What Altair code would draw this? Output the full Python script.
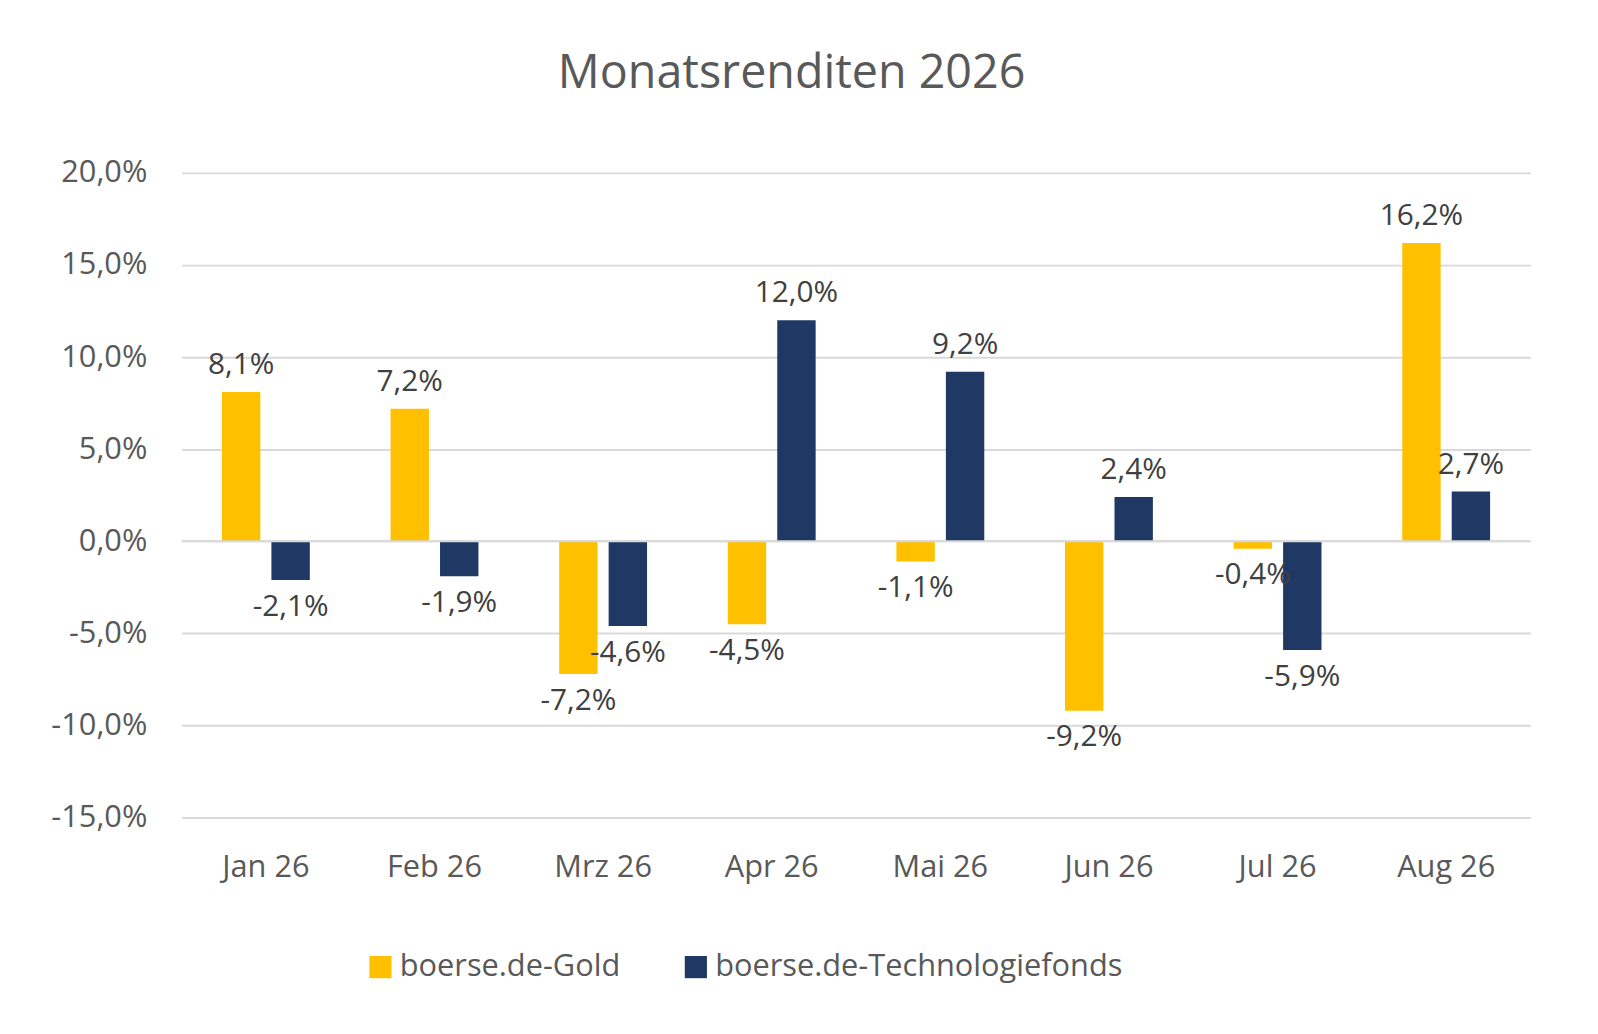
import pandas as pd
import altair as alt

months = ["Jan 26", "Feb 26", "Mrz 26", "Apr 26", "Mai 26", "Jun 26", "Jul 26", "Aug 26"]
gold = [8.1, 7.2, -7.2, -4.5, -1.1, -9.2, -0.4, 16.2]
tech = [-2.1, -1.9, -4.6, 12.0, 9.2, 2.4, -5.9, 2.7]
series = ["boerse.de-Gold", "boerse.de-Technologiefonds"]

df = pd.DataFrame({
    "Monat": months * 2,
    "Fonds": [series[0]] * len(months) + [series[1]] * len(months),
    "Rendite": gold + tech,
})

font = "Open Sans"
grey = "#595959"

base = alt.Chart(df).encode(
    x=alt.X("Monat:N", sort=months, title=None,
            scale=alt.Scale(paddingInner=0, paddingOuter=0),
            axis=alt.Axis(labelAngle=0, domain=False, ticks=False, labelFontSize=31,
                          labelColor=grey, labelFont=font, labelPadding=35)),
    xOffset=alt.XOffset("Fonds:N", sort=series,
                        scale=alt.Scale(paddingInner=0.224, paddingOuter=0.816)),
)

bars = base.mark_bar().encode(
    y=alt.Y("Rendite:Q", title=None,
            scale=alt.Scale(domain=[-15, 20], nice=False),
            axis=alt.Axis(values=[-15, -10, -5, 0, 5, 10, 15, 20], domain=False, ticks=False,
                          labelExpr="replace(replace(format(datum.value, '.1f'), '.', ','), '\u2212', '-') + '%'",
                          labelFontSize=31, labelColor=grey, labelFont=font, labelPadding=35,
                          gridColor="#D9D9D9", gridWidth=2)),
    color=alt.Color("Fonds:N", sort=series,
                    scale=alt.Scale(domain=series, range=["#FFC000", "#1F3864"]),
                    legend=alt.Legend(title=None, orient="none", direction="horizontal",
                                      legendX=185, legendY=785, symbolType="square",
                                      symbolSize=500, symbolStrokeWidth=0, labelFontSize=31,
                                      labelColor=grey, labelFont=font, columnPadding=60,
                                      labelLimit=600)),
)

lbl = "replace(replace(format(datum.Rendite, '.1f'), '.', ','), '\u2212', '-') + '%'"
pos = base.transform_filter("datum.Rendite >= 0").transform_calculate(t=lbl).mark_text(
    baseline="bottom", dy=-12, fontSize=30, font=font, color="#404040"
).encode(y="Rendite:Q", text="t:N")
neg = base.transform_filter("datum.Rendite < 0").transform_calculate(t=lbl).mark_text(
    baseline="top", dy=12, fontSize=30, font=font, color="#404040"
).encode(y="Rendite:Q", text="t:N")

zero = alt.Chart(pd.DataFrame({"y": [0]})).mark_rule(color="#D9D9D9", strokeWidth=2).encode(y="y:Q")

chart = alt.layer(bars, zero, pos, neg).properties(
    width=1360, height=650,
    title=alt.TitleParams("Monatsrenditen 2026", fontSize=47, font=font, color=grey,
                          fontWeight="normal", offset=60, dx=-65),
    autosize=alt.AutoSizeParams(type="none"),
    padding={"left": 175, "top": 162, "right": 60, "bottom": 220},
).configure_view(stroke=None)

chart.save("out.html", embed_options={"renderer": "svg", "actions": False})
